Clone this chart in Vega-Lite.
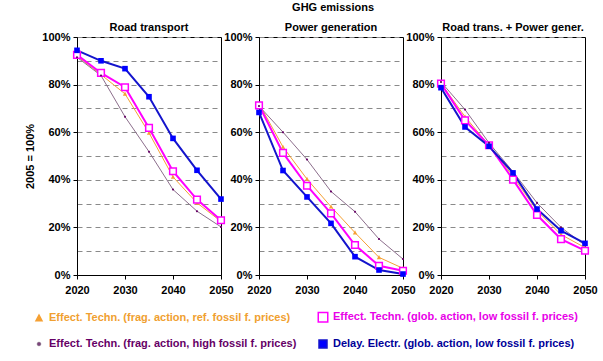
{
 "$schema": "https://vega.github.io/schema/vega-lite/v6.json",
 "padding": {"left": 24, "top": 1, "right": 5, "bottom": 0},
 "title": {"text": "GHG emissions", "fontSize": 11, "fontWeight": "bold", "font": "Liberation Sans", "anchor": "middle", "dx": 22, "offset": 9, "color": "black"},
 "data": {"values": [
  {"p":"R","s":"A","y":2020,"v":92.0},{"p":"R","s":"A","y":2025,"v":84.2},{"p":"R","s":"A","y":2030,"v":76.1},{"p":"R","s":"A","y":2035,"v":59.7},{"p":"R","s":"A","y":2040,"v":41.2},{"p":"R","s":"A","y":2045,"v":30.3},{"p":"R","s":"A","y":2050,"v":22.5},
  {"p":"R","s":"B","y":2020,"v":92.5},{"p":"R","s":"B","y":2025,"v":84.9},{"p":"R","s":"B","y":2030,"v":78.9},{"p":"R","s":"B","y":2035,"v":61.8},{"p":"R","s":"B","y":2040,"v":43.6},{"p":"R","s":"B","y":2045,"v":31.7},{"p":"R","s":"B","y":2050,"v":23.0},
  {"p":"R","s":"C","y":2020,"v":91.5},{"p":"R","s":"C","y":2025,"v":83.8},{"p":"R","s":"C","y":2030,"v":66.5},{"p":"R","s":"C","y":2035,"v":51.8},{"p":"R","s":"C","y":2040,"v":35.9},{"p":"R","s":"C","y":2045,"v":26.8},{"p":"R","s":"C","y":2050,"v":20.2},
  {"p":"R","s":"D","y":2020,"v":94.4},{"p":"R","s":"D","y":2025,"v":90.0},{"p":"R","s":"D","y":2030,"v":86.7},{"p":"R","s":"D","y":2035,"v":74.9},{"p":"R","s":"D","y":2040,"v":57.4},{"p":"R","s":"D","y":2045,"v":44.0},{"p":"R","s":"D","y":2050,"v":31.9},
  {"p":"P","s":"A","y":2020,"v":72.0},{"p":"P","s":"A","y":2025,"v":53.8},{"p":"P","s":"A","y":2030,"v":40.3},{"p":"P","s":"A","y":2035,"v":28.7},{"p":"P","s":"A","y":2040,"v":17.8},{"p":"P","s":"A","y":2045,"v":7.4},{"p":"P","s":"A","y":2050,"v":2.8},
  {"p":"P","s":"B","y":2020,"v":71.3},{"p":"P","s":"B","y":2025,"v":51.3},{"p":"P","s":"B","y":2030,"v":37.5},{"p":"P","s":"B","y":2035,"v":25.9},{"p":"P","s":"B","y":2040,"v":12.6},{"p":"P","s":"B","y":2045,"v":3.9},{"p":"P","s":"B","y":2050,"v":1.8},
  {"p":"P","s":"C","y":2020,"v":71.0},{"p":"P","s":"C","y":2025,"v":60.0},{"p":"P","s":"C","y":2030,"v":48.5},{"p":"P","s":"C","y":2035,"v":35.1},{"p":"P","s":"C","y":2040,"v":26.6},{"p":"P","s":"C","y":2045,"v":15.1},{"p":"P","s":"C","y":2050,"v":6.7},
  {"p":"P","s":"D","y":2020,"v":68.3},{"p":"P","s":"D","y":2025,"v":43.9},{"p":"P","s":"D","y":2030,"v":32.8},{"p":"P","s":"D","y":2035,"v":21.7},{"p":"P","s":"D","y":2040,"v":7.7},{"p":"P","s":"D","y":2045,"v":2.1},{"p":"P","s":"D","y":2050,"v":0.4},
  {"p":"T","s":"A","y":2020,"v":80.5},{"p":"T","s":"A","y":2025,"v":66.5},{"p":"T","s":"A","y":2030,"v":54.5},{"p":"T","s":"A","y":2035,"v":41.5},{"p":"T","s":"A","y":2040,"v":27.0},{"p":"T","s":"A","y":2045,"v":17.0},{"p":"T","s":"A","y":2050,"v":11.5},
  {"p":"T","s":"B","y":2020,"v":80.4},{"p":"T","s":"B","y":2025,"v":65.0},{"p":"T","s":"B","y":2030,"v":54.5},{"p":"T","s":"B","y":2035,"v":40.1},{"p":"T","s":"B","y":2040,"v":25.2},{"p":"T","s":"B","y":2045,"v":15.1},{"p":"T","s":"B","y":2050,"v":10.2},
  {"p":"T","s":"C","y":2020,"v":81.1},{"p":"T","s":"C","y":2025,"v":69.5},{"p":"T","s":"C","y":2030,"v":55.5},{"p":"T","s":"C","y":2035,"v":43.4},{"p":"T","s":"C","y":2040,"v":30.3},{"p":"T","s":"C","y":2045,"v":20.0},{"p":"T","s":"C","y":2050,"v":12.5},
  {"p":"T","s":"D","y":2020,"v":78.7},{"p":"T","s":"D","y":2025,"v":62.2},{"p":"T","s":"D","y":2030,"v":54.1},{"p":"T","s":"D","y":2035,"v":42.9},{"p":"T","s":"D","y":2040,"v":27.7},{"p":"T","s":"D","y":2045,"v":18.6},{"p":"T","s":"D","y":2050,"v":13.3}
 ]},
 "spacing": -11,
 "resolve": {"scale": {"stroke": "shared", "fill": "shared", "shape": "shared"}},
 "hconcat": [
  {
   "title": {"text": "Road transport"},
   "width": 144, "height": 238,
   "transform": [{"filter": "datum.p === 'R'"}],
   "encoding": {
    "x": {"field": "y", "type": "quantitative", "scale": {"domain": [2020, 2050], "nice": false, "zero": false}, "axis": {"values": [2020, 2030, 2040, 2050], "format": "d", "grid": false, "title": null}},
    "y": {"field": "v", "type": "quantitative", "scale": {"domain": [0, 100], "nice": false}, "axis": {"title": "2005 = 100%", "values": [0,10,20,30,40,50,60,70,80,90,100], "labelExpr": "datum.value % 20 == 0 ? datum.value + '%' : ''", "tickOpacity": {"condition": {"test": "datum.value % 20 != 0", "value": 0}, "value": 1}}}
   },
   "layer": [
    {"transform": [{"filter": "datum.s === 'A' || datum.s === 'C'"}], "mark": {"type": "line", "strokeWidth": 1}, "encoding": {"stroke": {"field": "s", "type": "nominal", "scale": {"domain": ["A","C","B","D"], "range": ["#F5A033", "#8C6E8C", "#FF00FF", "#1414CC"]}, "legend": {"labelExpr": "datum.value === 'A' ? 'Effect. Techn. (frag. action, ref. fossil f. prices)' : datum.value === 'B' ? 'Effect. Techn. (glob. action, low fossil f. prices)' : datum.value === 'C' ? 'Effect. Techn. (frag. action, high fossil f. prices)' : 'Delay. Electr. (glob. action, low fossil f. prices)'", "encode": {"labels": {"update": {"fill": {"signal": "datum.value === 'A' ? '#F0A030' : datum.value === 'B' ? '#E800E8' : datum.value === 'C' ? '#660066' : '#000099'"}}}}}}}},
    {"transform": [{"filter": "datum.s === 'B' || datum.s === 'D'"}], "mark": {"type": "line", "strokeWidth": 2}, "encoding": {"stroke": {"field": "s", "type": "nominal", "scale": {"domain": ["A","C","B","D"], "range": ["#F5A033", "#8C6E8C", "#FF00FF", "#1414CC"]}}}},
    {"mark": {"type": "point", "filled": true, "size": 49, "opacity": 1, "strokeWidth": 1.5}, "encoding": {"shape": {"field": "s", "type": "nominal", "scale": {"domain": ["A","C","B","D"], "range": ["M0,-0.65L0.6,0.5L-0.6,0.5Z", "M0.3,0A0.3,0.3,0,1,1,-0.3,0A0.3,0.3,0,1,1,0.3,0Z", "M-0.95,-0.95H0.95V0.95H-0.95Z", "M-0.8,-0.8H0.8V0.8H-0.8Z"]}}, "fill": {"field": "s", "type": "nominal", "scale": {"domain": ["A","C","B","D"], "range": ["#F5A033", "#660066", "#FFFFFF", "#0000FF"]}}, "stroke": {"condition": {"test": "datum.s === 'B'", "value": "#FF00FF"}, "value": null}}}
   ]
  },
  {
   "title": {"text": "Power generation"},
   "width": 144, "height": 238,
   "transform": [{"filter": "datum.p === 'P'"}],
   "encoding": {
    "x": {"field": "y", "type": "quantitative", "scale": {"domain": [2020, 2050], "nice": false, "zero": false}, "axis": {"values": [2020, 2030, 2040, 2050], "format": "d", "grid": false, "title": null}},
    "y": {"field": "v", "type": "quantitative", "scale": {"domain": [0, 100], "nice": false}, "axis": {"title": null, "values": [0,10,20,30,40,50,60,70,80,90,100], "labelExpr": "datum.value % 20 == 0 ? datum.value + '%' : ''", "tickOpacity": {"condition": {"test": "datum.value % 20 != 0", "value": 0}, "value": 1}}}
   },
   "layer": [
    {"transform": [{"filter": "datum.s === 'A' || datum.s === 'C'"}], "mark": {"type": "line", "strokeWidth": 1}, "encoding": {"stroke": {"field": "s", "type": "nominal"}}},
    {"transform": [{"filter": "datum.s === 'B' || datum.s === 'D'"}], "mark": {"type": "line", "strokeWidth": 2}, "encoding": {"stroke": {"field": "s", "type": "nominal"}}},
    {"mark": {"type": "point", "filled": true, "size": 49, "opacity": 1, "strokeWidth": 1.5}, "encoding": {"shape": {"field": "s", "type": "nominal"}, "fill": {"field": "s", "type": "nominal"}, "stroke": {"condition": {"test": "datum.s === 'B'", "value": "#FF00FF"}, "value": null}}}
   ]
  },
  {
   "title": {"text": "Road trans. + Power gener."},
   "width": 144, "height": 238,
   "transform": [{"filter": "datum.p === 'T'"}],
   "encoding": {
    "x": {"field": "y", "type": "quantitative", "scale": {"domain": [2020, 2050], "nice": false, "zero": false}, "axis": {"values": [2020, 2030, 2040, 2050], "format": "d", "grid": false, "title": null}},
    "y": {"field": "v", "type": "quantitative", "scale": {"domain": [0, 100], "nice": false}, "axis": {"title": null, "values": [0,10,20,30,40,50,60,70,80,90,100], "labelExpr": "datum.value % 20 == 0 ? datum.value + '%' : ''", "tickOpacity": {"condition": {"test": "datum.value % 20 != 0", "value": 0}, "value": 1}}}
   },
   "layer": [
    {"transform": [{"filter": "datum.s === 'A' || datum.s === 'C'"}], "mark": {"type": "line", "strokeWidth": 1}, "encoding": {"stroke": {"field": "s", "type": "nominal"}}},
    {"transform": [{"filter": "datum.s === 'B' || datum.s === 'D'"}], "mark": {"type": "line", "strokeWidth": 2}, "encoding": {"stroke": {"field": "s", "type": "nominal"}}},
    {"mark": {"type": "point", "filled": true, "size": 49, "opacity": 1, "strokeWidth": 1.5}, "encoding": {"shape": {"field": "s", "type": "nominal"}, "fill": {"field": "s", "type": "nominal"}, "stroke": {"condition": {"test": "datum.s === 'B'", "value": "#FF00FF"}, "value": null}}}
   ]
  }
 ],
 "config": {
  "font": "Liberation Sans",
  "view": {"stroke": "black", "strokeWidth": 1},
  "axis": {"labelFont": "Liberation Sans", "labelFontSize": 11, "labelFontWeight": "bold", "labelColor": "black", "domainColor": "black", "tickColor": "black", "tickSize": 4, "labelPadding": 3, "titleFont": "Liberation Sans", "titleFontSize": 11, "titleFontWeight": "bold", "titleColor": "black", "labelFlush": false, "labelOverlap": false},
  "axisX": {"labelPadding": 5},
  "axisY": {"grid": true, "gridDash": [5, 4], "gridColor": "#8a8a8a", "gridWidth": 1, "titlePadding": 6},
  "title": {"font": "Liberation Sans", "fontSize": 11, "fontWeight": "bold", "color": "black", "offset": -2},
  "legend": {
   "orient": "none", "legendX": -44, "legendY": 274, "columns": 2, "title": null,
   "labelFont": "Liberation Sans", "labelFontSize": 11, "labelFontWeight": "bold", "labelLimit": 320,
   "columnPadding": 18, "rowPadding": 12, "symbolStrokeWidth": 1.5, "labelOffset": 4
  }
 },
 "encoding": {}
}
